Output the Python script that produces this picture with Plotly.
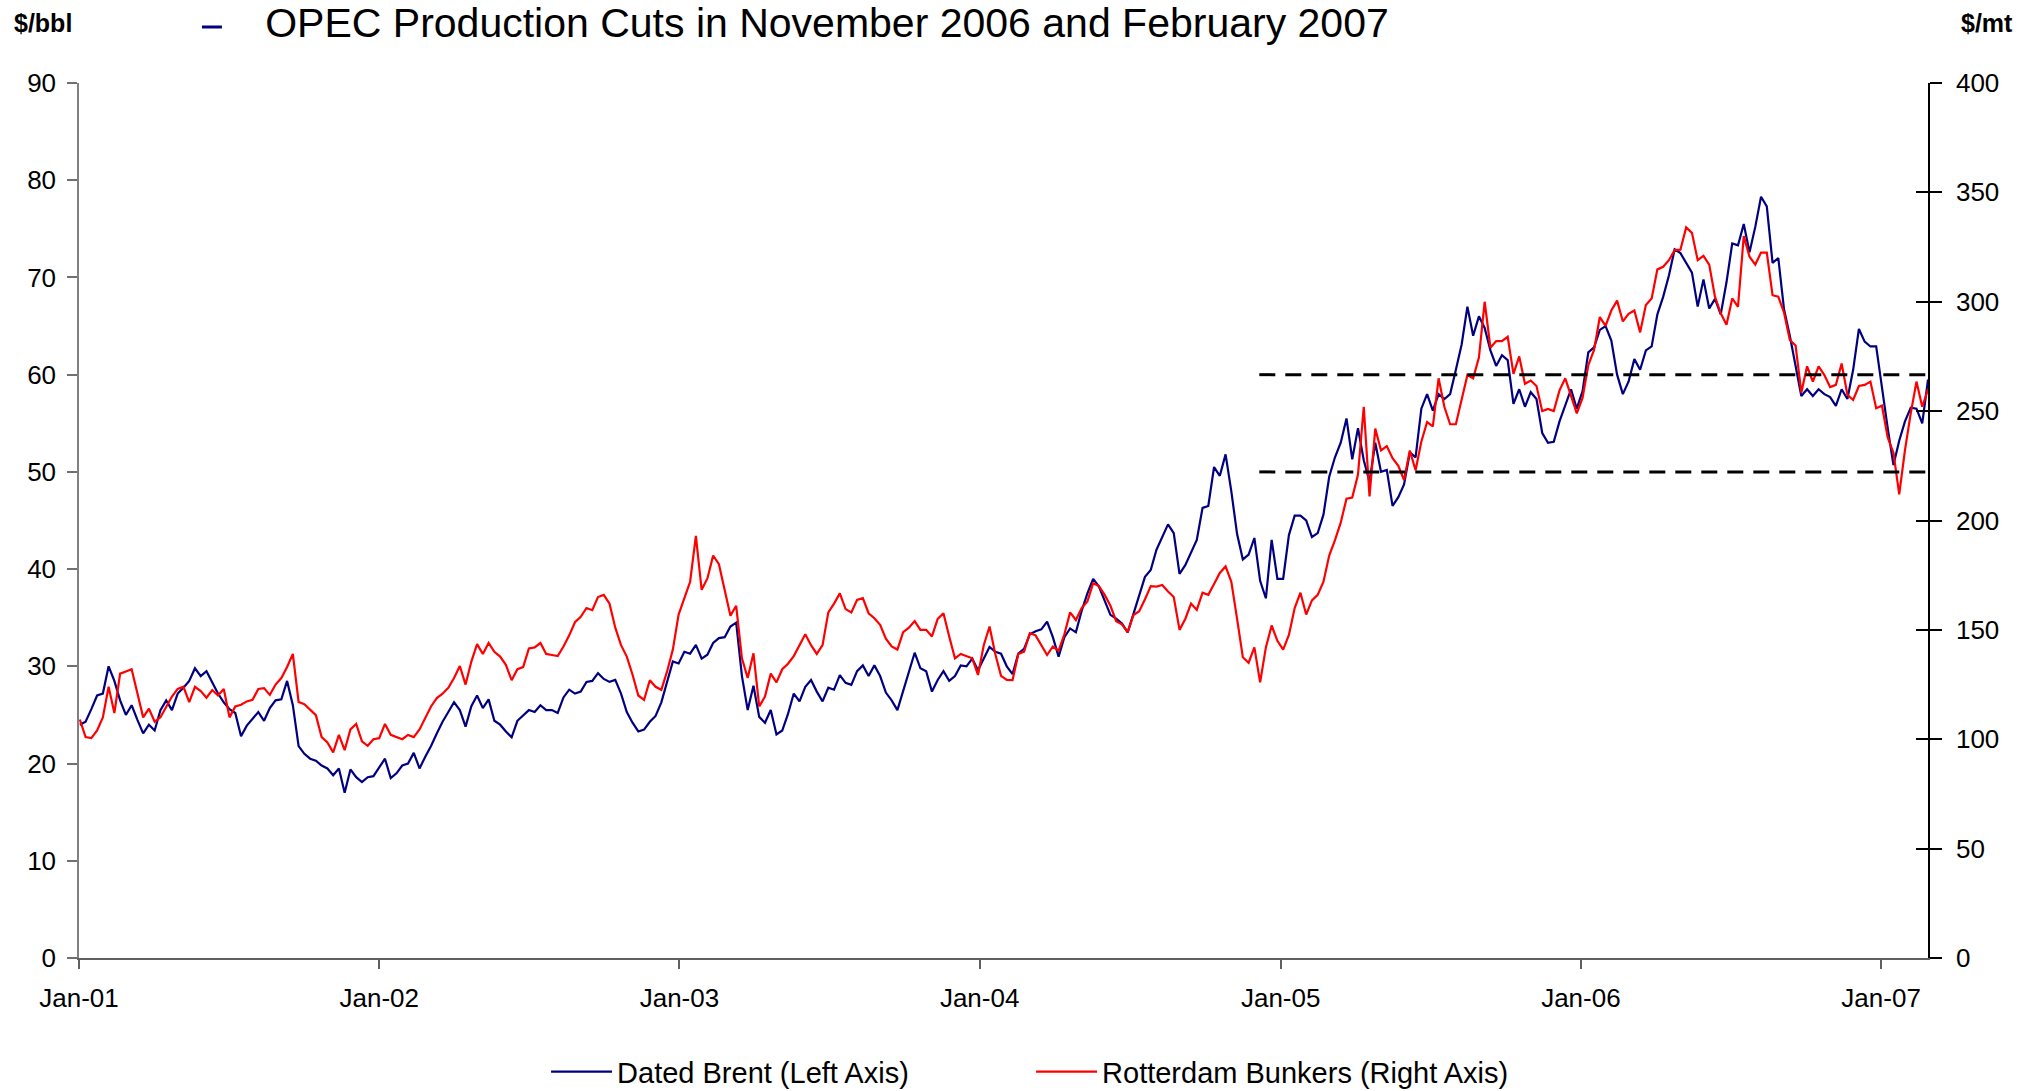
import pandas as pd
import plotly.graph_objects as go

# ------------------------------------------------------------
# Weekly readings (first week 2001-01-02, one value every 7 days)
# ------------------------------------------------------------
START = "2001-01-02"
X_START = "2001-01-01"
X_END = "2007-02-27"

# Dated Brent, $/bbl (left axis)
BRENT_2001 = [24.0, 24.3, 25.6, 27.0, 27.2, 30.0, 28.5, 26.5, 25.0, 26.0,
              24.5, 23.1, 24.0, 23.4, 25.5, 26.5, 25.5, 27.2, 27.8, 28.5,
              29.8, 29.0, 29.5, 28.3, 27.2, 26.3, 25.6, 25.2, 22.8, 23.9,
              24.6, 25.3, 24.4, 25.7, 26.5, 26.6, 28.5, 26.0, 21.8, 21.0,
              20.5, 20.3, 19.8, 19.5, 18.8, 19.5, 17.0, 19.4, 18.6, 18.1,
              18.6, 18.7]
BRENT_2002 = [19.6, 20.5, 18.5, 19.0, 19.8, 20.0, 21.1, 19.5,
              20.7, 21.8, 23.1, 24.3, 25.3, 26.3, 25.5, 23.8, 25.9, 27.0,
              25.7, 26.6, 24.4, 24.0, 23.3, 22.7, 24.4, 25.0, 25.5, 25.3,
              26.0, 25.5, 25.5, 25.2, 26.8, 27.6, 27.2, 27.4, 28.4, 28.5,
              29.3, 28.7, 28.4, 28.6, 27.2, 25.3, 24.2, 23.3, 23.5, 24.3,
              24.9, 26.3, 28.3, 30.5]
BRENT_2003 = [30.3, 31.5, 31.3, 32.2, 30.8, 31.2,
              32.4, 32.9, 33.0, 34.1, 34.5, 29.0, 25.5, 28.0, 24.8, 24.2,
              25.5, 23.0, 23.4, 25.1, 27.2, 26.4, 27.9, 28.6, 27.4, 26.4,
              27.8, 27.6, 29.1, 28.3, 28.1, 29.5, 30.1, 29.0, 30.1, 29.0,
              27.3, 26.5, 25.5, 27.4, 29.5, 31.4, 29.8, 29.5, 27.4, 28.6,
              29.5, 28.5, 29.0, 30.1, 30.0, 30.8]
BRENT_2004 = [29.6, 30.8, 32.0, 31.5,
              31.3, 30.0, 29.2, 31.3, 31.8, 33.3, 33.6, 33.8, 34.6, 33.0,
              31.0, 33.0, 33.9, 33.5, 35.7, 37.5, 39.0, 38.2, 36.8, 35.3,
              34.9, 34.4, 33.5, 35.5, 37.3, 39.2, 39.9, 42.0, 43.3, 44.6,
              43.7, 39.5, 40.4, 41.7, 43.0, 46.3, 46.5, 50.5, 49.6, 51.8,
              48.0, 43.6, 41.0, 41.5, 43.2, 38.8, 37.0, 43.0]
BRENT_2005 = [39.0, 39.0,
              43.5, 45.5, 45.5, 45.0, 43.3, 43.7, 45.6, 49.5, 51.5, 53.0,
              55.5, 51.3, 54.5, 51.2, 49.0, 53.0, 50.0, 50.2, 46.5, 47.4,
              48.7, 52.0, 51.5, 56.5, 58.0, 56.3, 58.0, 57.5, 58.0, 60.5,
              63.1, 67.0, 64.0, 66.0, 64.8, 62.5, 60.9, 62.0, 61.5, 57.0,
              58.5, 56.7, 58.2, 57.5, 54.0, 53.0, 53.1, 55.2, 56.8, 58.5,
              56.5]
BRENT_2006 = [58.3, 62.3, 62.8, 64.6, 65.0, 63.5, 60.0, 58.0, 59.3,
              61.6, 60.5, 62.5, 62.9, 66.2, 68.0, 70.2, 72.9, 72.5, 71.5,
              70.5, 67.0, 69.8, 66.8, 67.8, 66.2, 69.5, 73.5, 73.3, 75.5,
              72.6, 75.2, 78.3, 77.3, 71.5, 72.0, 66.7, 64.0, 60.7, 57.8,
              58.5, 57.8, 58.5, 58.0, 57.7, 56.8, 58.5, 57.5, 60.5, 64.7,
              63.4, 62.9, 62.9]
BRENT_2007 = [58.5, 54.5, 50.7, 53.2, 55.2, 56.6, 56.5, 55.0, 59.5]

# Rotterdam bunkers, $/mt (right axis)
BUNKER_2001 = [109, 101, 100.5, 104, 110, 124, 112, 130, 131, 132,
               121, 110, 114, 108, 110, 115, 119.5, 123, 124, 117,
               124, 122, 119, 122.5, 120, 123, 110, 115, 115.8, 117.3,
               118, 123, 123.4, 120.3, 125, 128, 133, 139, 117, 116,
               113.5, 111, 101, 98.5, 94, 102, 95, 104.5, 107, 99,
               97, 100]
BUNKER_2002 = [100.5, 107, 102, 101, 100, 102, 101, 104.5,
               110, 115, 118.8, 120.8, 123.5, 128, 133.5, 125, 135.5, 143.5,
               139, 144, 140, 137.8, 134, 127, 132, 133, 141.5, 142,
               144, 139, 138.5, 138, 142.4, 147.5, 153.5, 156, 160, 159,
               165, 166, 162, 151, 143, 137.8, 129.5, 120, 118, 127,
               124, 122.6, 131, 141]
BUNKER_2003 = [157, 165, 172, 193, 168.3, 173.5,
               184, 180, 167.5, 156.5, 161, 137, 128, 139.3, 115, 119.5,
               130, 126, 132, 134.5, 138, 143, 148, 143, 139, 143,
               158, 162, 166.7, 159.5, 158, 163.7, 164.5, 157.6, 155.3, 152.3,
               146, 142.4, 141, 149, 151, 154, 150, 150, 147, 155,
               157.6, 147, 137, 139, 138, 137]
BUNKER_2004 = [129.4, 143, 151.5, 139,
               129, 127.1, 127, 139, 140, 148.5, 147.5, 143, 138.5, 142.4,
               140.5, 148, 158, 154.5, 160, 163, 171.3, 170, 166, 161,
               154, 152.5, 149, 156.8, 158.5, 164, 170, 169.8, 170.5, 167.5,
               165, 150, 155, 162, 159.1, 167, 166, 171, 176, 179,
               172, 155, 137.5, 135, 142, 126, 142, 152]
BUNKER_2005 = [145, 141,
               147.7, 160, 167, 157, 163.5, 166, 172, 184, 191, 199,
               210, 210.5, 221, 252, 211, 242, 232, 234, 228.5, 225,
               218.5, 232, 223, 236, 245, 243, 265, 252, 244, 244,
               255, 266.5, 265, 274.5, 300, 279, 282, 282, 284, 267,
               275, 262.5, 264, 261.5, 250, 251, 250, 259.5, 265, 257,
               249]
BUNKER_2006 = [256, 271, 278, 293, 289, 296, 300.5, 291, 294.5,
               296, 286, 298.5, 301.5, 314.8, 316, 319, 323.6, 323.8, 334,
               331.5, 319, 321, 317, 302.3, 294.7, 289.5, 301.5, 297.7, 330,
               320.6, 317, 322.5, 322.5, 303, 302.3, 295, 282.5, 280, 258.5,
               270.5, 263.5, 270.5, 266.5, 261, 262, 271.8, 257.5, 255.1, 261.5,
               262, 263.5, 251.3]
BUNKER_2007 = [252.5, 238, 231, 212, 232.2, 249, 263.5, 252, 260]

# OPEC cut band ($/bbl, left axis scale)
CUT_LEVELS = [60, 50]
CUT_START = "2004-12-06"

TITLE = "OPEC Production Cuts in November 2006 and February 2007"

NAVY = "#000080"
RED = "#FF0000"
FONT = "Arial, Liberation Sans, sans-serif"

BRENT = (BRENT_2001 + BRENT_2002 + BRENT_2003 + BRENT_2004
         + BRENT_2005 + BRENT_2006 + BRENT_2007)
BUNKERS = (BUNKER_2001 + BUNKER_2002 + BUNKER_2003 + BUNKER_2004
           + BUNKER_2005 + BUNKER_2006 + BUNKER_2007)
dates = pd.date_range(START, periods=len(BRENT), freq="7D")

fig = go.Figure()

fig.add_trace(go.Scatter(
    x=dates, y=BRENT,
    name="Dated Brent (Left Axis)",
    mode="lines",
    line=dict(color=NAVY, width=2.2),
    yaxis="y",
))
fig.add_trace(go.Scatter(
    x=dates, y=BUNKERS,
    name="Rotterdam Bunkers (Right Axis)",
    mode="lines",
    line=dict(color=RED, width=2.2),
    yaxis="y2",
))

# dashed band lines (on an overlay axis with the left-axis scale, drawn on top)
for lvl in CUT_LEVELS:
    fig.add_trace(go.Scatter(
        x=[CUT_START, X_END], y=[lvl, lvl],
        mode="lines",
        line=dict(color="black", width=3, dash="16px,10px"),
        showlegend=False, hoverinfo="skip",
        yaxis="y3",
    ))

# small navy dash in front of the title
fig.add_shape(type="line", xref="paper", yref="paper",
              x0=0.0665, x1=0.0773, y0=1.064, y1=1.064,
              line=dict(color=NAVY, width=3))

fig.add_annotation(text="<b>$/bbl</b>", xref="paper", yref="paper",
                   x=(42.5 - 79) / 1849, y=1 + (83 - 23) / 875,
                   xanchor="center", yanchor="middle", showarrow=False,
                   font=dict(size=25, family=FONT))
fig.add_annotation(text="<b>$/mt</b>", xref="paper", yref="paper",
                   x=(1987 - 79) / 1849, y=1 + (83 - 23) / 875,
                   xanchor="center", yanchor="middle", showarrow=False,
                   font=dict(size=25, family=FONT))

fig.update_layout(
    width=2033, height=1091,
    margin=dict(l=79, r=105, t=83, b=133, autoexpand=False),
    paper_bgcolor="white", plot_bgcolor="white",
    font=dict(family=FONT, size=26, color="black"),
    title=dict(text=TITLE, x=827 / 2033, xanchor="center",
               y=1 - 23 / 1091, yanchor="middle",
               font=dict(size=41, family=FONT, color="black")),
    xaxis=dict(
        type="date", range=[X_START, X_END],
        tick0="2001-01-01", dtick="M12", tickformat="%b-%y",
        ticks="outside", ticklen=9, tickcolor="#606060", tickwidth=1.5,
        ticklabelstandoff=7,
        showline=True, linecolor="#606060", linewidth=1.5,
        showgrid=False, zeroline=False,
    ),
    yaxis=dict(
        range=[0, 90], dtick=10,
        ticks="outside", ticklen=10, tickcolor="#707070", tickwidth=1.5,
        ticklabelstandoff=6,
        showline=True, linecolor="#808080", linewidth=1.5,
        showgrid=False, zeroline=False,
    ),
    yaxis2=dict(
        range=[0, 400], dtick=50, overlaying="y", side="right",
        ticks="outside", ticklen=12, tickcolor="black", tickwidth=1.5,
        ticklabelstandoff=9,
        showline=True, linecolor="black", linewidth=1.5,
        showgrid=False, zeroline=False,
    ),
    # same height scale as the left axis; its ticks fall on the right-axis ticks
    yaxis3=dict(
        range=[0, 90], tick0=0, dtick=11.25, overlaying="y", side="right",
        anchor="x",
        ticks="inside", ticklen=12, tickcolor="black", tickwidth=1.5,
        showticklabels=False, showline=False,
        showgrid=False, zeroline=False,
    ),
    showlegend=True,
    legend=dict(
        orientation="h", x=0.2526, xanchor="left",
        y=-0.130, yanchor="middle",
        itemwidth=61,
        entrywidth=409, entrywidthmode="pixels",
        font=dict(size=29, family=FONT),
        bgcolor="rgba(0,0,0,0)",
    ),
    hovermode="x unified",
)

fig.write_html("out.html", config={"displayModeBar": False},
               post_script="document.body.style.margin='0';")
